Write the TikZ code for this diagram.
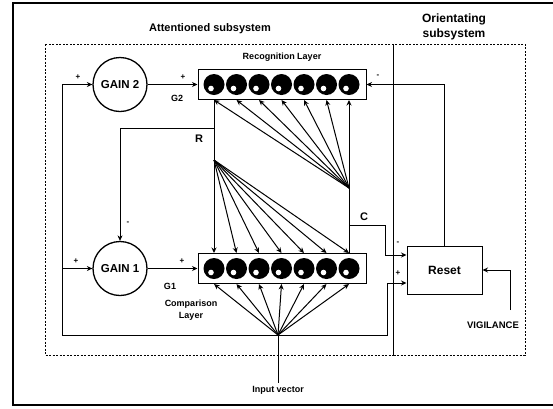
\documentclass[tikz,border=0pt]{standalone}
\usepackage{fontspec}
\setmainfont{Liberation Sans}
\usetikzlibrary{arrows.meta}
\begin{document}
\begin{tikzpicture}[x=1pt,y=-1pt,
  conn/.style={line width=1pt, -{Stealth[length=5.5pt,width=5pt]}},
  wire/.style={line width=1pt},
  subsys/.style={line width=0.9pt, dash pattern=on 2pt off 1.5pt},
  gain/.style={circle, draw, line width=1.3pt, minimum size=54pt, inner sep=0pt, font=\bfseries\fontsize{11.5}{12}\selectfont},
  layer/.style={draw, line width=1pt, minimum width=168pt, minimum height=30pt, inner sep=0pt},
  neuron/.style={circle, fill=black, minimum size=21pt, inner sep=0pt},
  sign/.style={font=\bfseries\fontsize{8}{8}\selectfont, inner sep=0pt},
  lbl/.style={font=\bfseries\fontsize{9}{12}\selectfont, align=center, inner sep=0pt},
  big/.style={font=\bfseries\fontsize{11}{13}\selectfont, inner sep=0pt},
  title/.style={font=\bfseries\fontsize{11}{15}\selectfont, align=center, inner sep=0pt}
]
\useasboundingbox (0,0) rectangle (553,408);
% outer frame
\draw[line width=1.2pt] (553,3) -- (13,3) -- (13,405) -- (553,405);
% subsystem boxes
\draw[subsys] (45,44) rectangle (393,355);
\draw[subsys] (393,44) rectangle (525,355);
\node[title] (att) at (210,29) {Attentioned subsystem};
\node[title, font=\bfseries\fontsize{12}{15}\selectfont] (ori) at (454,27) {Orientating\\subsystem};

% layers
\node[layer] (rec) at (282,84.5) {};
\node[layer] (comp) at (282,268.5) {};
\node[lbl] (reclbl) at (282,57) {Recognition Layer};
\node[lbl] (cmplbl) at (191,310) {Comparison\\Layer};
\foreach \i in {1,...,7} {
  \node[neuron] (r\i) at ({214+22.5*(\i-1)},84.5) {};
  \fill[white] ([shift={(-3,4)}]r\i.center) circle[radius=2.8pt];
  \node[neuron] (c\i) at ({214+22.5*(\i-1)},268.5) {};
  \fill[white] ([shift={(-3,4)}]c\i.center) circle[radius=2.8pt];
}

% gains and reset
\node[gain] (g2) at (120,84.5) {GAIN 2};
\node[gain] (g1) at (120,268.5) {GAIN 1};
\node[draw, line width=1pt, minimum width=75pt, minimum height=48pt, font=\bfseries\fontsize{12}{12}\selectfont] (reset) at (444.5,270) {Reset};

% fan points and bends
\coordinate (fanR) at (214,160);
\coordinate (fanC) at (349,188);
\coordinate (fanI) at (278,335);
\coordinate (rbend) at (120,128);
\coordinate (cb1) at (385,225);
\coordinate (rin1) at ([yshift=15pt]reset.west);
\coordinate (rin2) at ([yshift=-13pt]reset.west);
\coordinate (loopL) at (62,335);
\coordinate (loopR) at (387,335);
\coordinate (vstart) at (510,310);
\coordinate (vbend) at (510,270);
\coordinate (rtop) at (reset.north |- rec.east);

% fans
\foreach \i in {1,...,7} {
  \draw[conn] (fanC) -- (r\i |- rec.south);
  \draw[conn] (fanR) -- (c\i |- comp.north);
  \draw[conn] (fanI) -- (c\i |- comp.south);
}
\draw[wire] (r1 |- rec.south) -- (fanR);
\draw[wire] (c7 |- comp.north) -- (fanC);

% R to GAIN 1
\draw[conn] (fanR |- rbend) -- (rbend) -- (g1.north);
% C to reset
\draw[conn] (fanC |- cb1) -- (cb1) -- (cb1 |- rin1) -- (rin1);
% input loops
\draw[wire] (fanI) -- (loopL);
\draw[conn] (loopL) -- (loopL |- g2) -- (g2.west);
\draw[conn] (loopL |- g1) -- (g1.west);
\draw[conn] (fanI) -- (loopR) -- (loopR |- rin2) -- (rin2);
% gains to layers
\draw[conn] (g2.east) -- (rec.west);
\draw[conn] (g1.east) -- (comp.west);
% reset to recognition
\draw[conn] (reset.north) -- (rtop) -- (rec.east);
% vigilance
\node[lbl, font=\bfseries\fontsize{9.5}{10}\selectfont] (vig) at (493,325) {VIGILANCE};
\draw[conn] (vstart) -- (vbend) -- (reset.east);
% input vector
\node[lbl] (inv) at (278,390) {Input vector};
\draw[wire] ([yshift=3pt]inv.north) -- (fanI);

% labels
\node[sign] (s1) at (78,77) {+};
\node[sign] (s2) at (183,77) {+};
\node[sign] (s3) at (378,76) {-};
\node[sign] (s4) at (128,223) {-};
\node[sign] (s5) at (76,261) {+};
\node[sign] (s6) at (182,261) {+};
\node[sign] (s7) at (398,243) {-};
\node[sign] (s8) at (398,273) {+};
\node[lbl] (lg2) at (177,98) {G2};
\node[lbl] (lg1) at (170,286) {G1};
\node[big] (lr) at (199,139) {R};
\node[big] (lc) at (364,217) {C};
\end{tikzpicture}
\end{document}
